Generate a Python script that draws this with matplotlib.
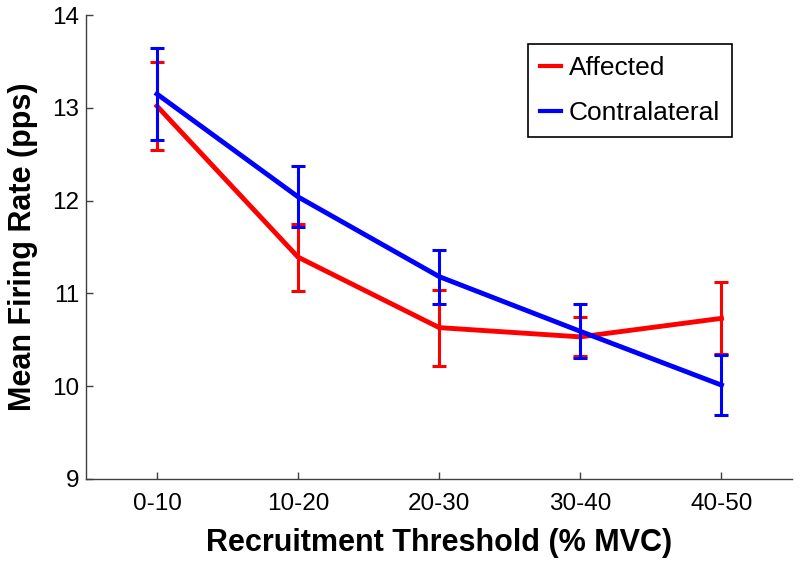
import matplotlib.pyplot as plt
from matplotlib.lines import Line2D
import numpy as np

plt.rcParams['font.family'] = ['Liberation Sans', 'DejaVu Sans']

# data
categories = ['0-10', '10-20', '20-30', '30-40', '40-50']
affected = [13.02, 11.39, 10.63, 10.53, 10.73]
affected_err = [0.47, 0.36, 0.41, 0.21, 0.39]
contra = [13.15, 12.04, 11.18, 10.59, 10.01]
contra_err = [0.495, 0.33, 0.29, 0.29, 0.32]

x = np.arange(1, len(categories) + 1)

fig = plt.figure(figsize=(8, 5.63), dpi=100)
ax = fig.add_axes([0.108, 0.1497, 0.882, 0.8233])

ax.errorbar(x, affected, yerr=affected_err, color='#ff0000', lw=3.5, elinewidth=2.2,
            capsize=5, capthick=2.2, zorder=2)
ax.errorbar(x, contra, yerr=contra_err, color='#0000ff', lw=3.5, elinewidth=2.2,
            capsize=5, capthick=2.2, zorder=3)

ax.set_xlim(0.5, 5.5)
ax.set_ylim(9, 14)
ax.set_xticks(x)
ax.set_xticklabels(categories)
ax.set_yticks([9, 10, 11, 12, 13, 14])

for s in ['top', 'right']:
    ax.spines[s].set_visible(False)
for s in ['left', 'bottom']:
    ax.spines[s].set_color('0.25')
    ax.spines[s].set_linewidth(1)
ax.tick_params(direction='in', length=5, width=1, color='0.25', labelsize=17.5)
ax.tick_params(axis='x', pad=10)
ax.tick_params(axis='y', pad=5)

ax.set_xlabel('Recruitment Threshold (% MVC)', fontsize=22, fontweight='bold', labelpad=10)
ax.set_ylabel('Mean Firing Rate (pps)', fontsize=22, fontweight='bold', labelpad=10)

# legend with plain line handles
handles = [Line2D([], [], color='#ff0000', lw=3), Line2D([], [], color='#0000ff', lw=3)]
leg = ax.legend(handles, ['Affected', 'Contralateral'], loc='upper right',
                bbox_to_anchor=(0.915, 0.938), borderaxespad=0,
                fontsize=19, handlelength=0.8, handletextpad=0.3, fancybox=False,
                framealpha=1, edgecolor='black', borderpad=0.45, labelspacing=0.8)
leg.get_frame().set_linewidth(1.2)

fig.savefig('out.png', dpi=100)
